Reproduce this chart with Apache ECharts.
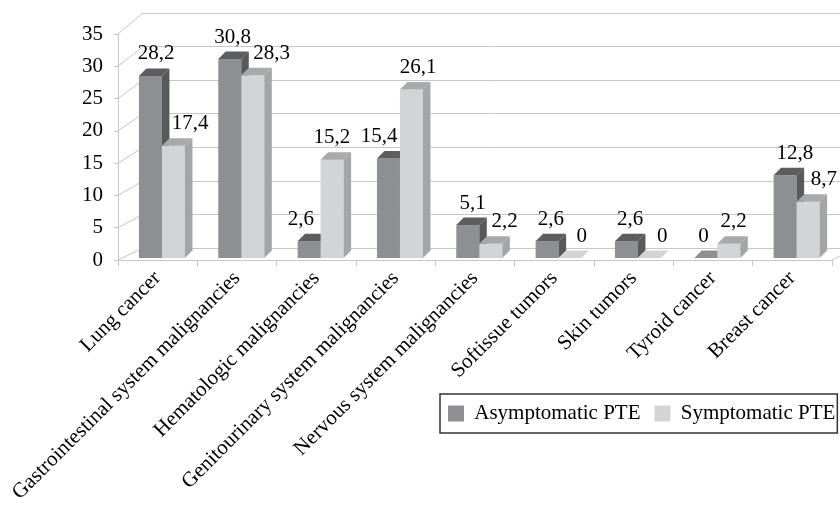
<!DOCTYPE html>
<html>
<head>
<meta charset="utf-8">
<script src="https://cdn.jsdelivr.net/npm/echarts@6/dist/echarts.min.js"></script>
<style>
  html, body { margin: 0; padding: 0; background: #fff; }
  #chart { width: 840px; height: 506px; }
</style>
</head>
<body>
<div id="chart"></div>
<script>
const categories = [
  'Lung cancer',
  'Gastrointestinal system malignancies',
  'Hematologic malignancies',
  'Genitourinary system malignancies',
  'Nervous system malignancies',
  'Softissue tumors',
  'Skin tumors',
  'Tyroid cancer',
  'Breast cancer'
];
const asymptomatic = [28.2, 30.8, 2.6, 15.4, 5.1, 2.6, 2.6, 0, 12.8];
const symptomatic = [17.4, 28.3, 15.2, 26.1, 2.2, 0, 0, 2.2, 8.7];
const seriesNames = ['Asymptomatic PTE', 'Symptomatic PTE'];
const yTicks = [0, 5, 10, 15, 20, 25, 30, 35];
const yMax = 35;

// ---- layout & style ----
const FONT_FAMILY = '"Liberation Serif", "Times New Roman", serif';
const FONT_SIZE = 21;
const FRONT = { left: 118, right: 832, top: 34, bottom: 260 };
const BACK = { left: 143, top: 13, bottom: 248 };
const LINE = '#c6c6c6';
const DEPTH = [7.5, -7.5];     // visible depth of each column
const BAR_W = 0.29;            // column width as share of a category band
const PAIR_SHIFT = 0.054;      // shift of the column pair inside the band
const BAR_LIFT = 2;            // columns stand slightly behind the front edge
const palette = [
  { front: '#8e8f93', top: '#5c5d5f', side: '#58595b' },
  { front: '#d3d4d6', top: '#a8a9ab', side: '#a4a5a7' }
];
// horizontal nudges of value labels, keeps neighbours apart
const labelNudge = [
  [2, -1, -12, -13, 1, 0, 0, -6, 6],
  [13, 15, -4, 3, 10, 8, 9, 1, 12]
];

function fmt(v) { return String(v).replace('.', ','); }

function columnRenderer(s) {
  const col = palette[s];
  return function (params, api) {
    const i = api.value(0);
    const v = api.value(1);
    const base = api.coord([i, 0]);
    const tip = api.coord([i, v]);
    const band = api.size([1, 0])[0];
    const w = band * BAR_W;
    const x0 = base[0] + band * PAIR_SHIFT - w + s * w;
    const x1 = x0 + w;
    const yb = base[1] - BAR_LIFT;
    const yt = tip[1] - BAR_LIFT;
    const dx = DEPTH[0], dy = DEPTH[1];
    const children = [];
    if (v > 0) {
      children.push({
        type: 'rect',
        shape: { x: x0, y: yt, width: w, height: yb - yt },
        style: { fill: col.front }
      });
      children.push({
        type: 'polygon',
        shape: { points: [[x0, yt], [x1, yt], [x1 + dx, yt + dy], [x0 + dx, yt + dy]] },
        style: { fill: col.top }
      });
      children.push({
        type: 'polygon',
        shape: { points: [[x1, yt], [x1 + dx, yt + dy], [x1 + dx, yb + dy], [x1, yb]] },
        style: { fill: col.side }
      });
    } else {
      children.push({
        type: 'polygon',
        shape: { points: [[x0, yb], [x1, yb], [x1 + dx, yb + dy], [x0 + dx, yb + dy]] },
        style: { fill: col.front }
      });
    }
    children.push({
      type: 'text',
      z2: 10,
      style: {
        text: fmt(v),
        x: x0 + w / 2 + dx / 2 + labelNudge[s][i],
        y: yt + dy - 4,
        align: 'center',
        verticalAlign: 'bottom',
        font: FONT_SIZE + 'px ' + FONT_FAMILY,
        fill: '#000'
      }
    });
    return { type: 'group', children: children };
  };
}

// left-side connectors between the front axis and the back wall, plus floor edge
function wallRenderer(params, api) {
  const cs = params.coordSys;
  const backY = v => BACK.bottom - (BACK.bottom - BACK.top) * v / yMax;
  const children = yTicks.map(v => ({
    type: 'line',
    shape: { x1: cs.x, y1: api.coord([0, v])[1], x2: BACK.left, y2: backY(v) },
    style: { stroke: LINE, lineWidth: 1 }
  }));
  const fx = cs.x + cs.width;
  const fy = api.coord([0, 0])[1];
  children.push({
    type: 'line',
    shape: { x1: fx, y1: fy, x2: fx + (BACK.left - cs.x), y2: BACK.bottom },
    style: { stroke: LINE, lineWidth: 1 }
  });
  return { type: 'group', children: children };
}

const chart = echarts.init(document.getElementById('chart'), null, { renderer: 'canvas' });

chart.setOption({
  animation: false,
  backgroundColor: '#fff',
  textStyle: { fontFamily: FONT_FAMILY },
  grid: [
    { left: FRONT.left, top: FRONT.top, width: FRONT.right - FRONT.left, height: FRONT.bottom - FRONT.top },
    { left: BACK.left, top: BACK.top, width: 760, height: BACK.bottom - BACK.top }
  ],
  legend: {
    data: seriesNames,
    left: 440,
    top: 394,
    width: 420,
    orient: 'horizontal',
    icon: 'rect',
    itemWidth: 16,
    itemHeight: 16,
    itemGap: 14,
    padding: [9, 2, 9, 8],
    borderColor: '#333',
    borderWidth: 1.5,
    selectedMode: false,
    formatter: n => ' ' + n,
    textStyle: { fontFamily: FONT_FAMILY, fontSize: FONT_SIZE, color: '#000' }
  },
  xAxis: [
    {
      type: 'category',
      gridIndex: 0,
      data: categories,
      axisLine: { show: true, lineStyle: { color: LINE } },
      axisTick: { show: true, length: 6, lineStyle: { color: LINE } },
      axisLabel: {
        interval: 0,
        rotate: 45,
        margin: 15,
        fontFamily: FONT_FAMILY,
        fontSize: FONT_SIZE,
        color: '#000'
      },
      splitLine: { show: false }
    },
    {
      type: 'category',
      gridIndex: 1,
      data: categories,
      show: false
    }
  ],
  yAxis: [
    {
      type: 'value',
      gridIndex: 0,
      min: 0,
      max: yMax,
      interval: 5,
      axisLine: { show: true, lineStyle: { color: LINE } },
      axisTick: { show: true, length: 4, lineStyle: { color: LINE } },
      axisLabel: { margin: 15, fontFamily: FONT_FAMILY, fontSize: FONT_SIZE, color: '#000' },
      splitLine: { show: false }
    },
    {
      type: 'value',
      gridIndex: 1,
      min: 0,
      max: yMax,
      interval: 5,
      axisLine: { show: false },
      axisTick: { show: false },
      axisLabel: { show: false },
      splitLine: { show: true, lineStyle: { color: LINE, width: 1 } }
    }
  ],
  series: [
    {
      type: 'custom',
      name: 'walls',
      xAxisIndex: 0,
      yAxisIndex: 0,
      z: 1,
      silent: true,
      renderItem: wallRenderer,
      data: [[0, 0]]
    },
    {
      type: 'custom',
      name: seriesNames[0],
      xAxisIndex: 0,
      yAxisIndex: 0,
      z: 3,
      itemStyle: { color: palette[0].front },
      renderItem: columnRenderer(0),
      data: asymptomatic.map((v, i) => [i, v])
    },
    {
      type: 'custom',
      name: seriesNames[1],
      xAxisIndex: 0,
      yAxisIndex: 0,
      z: 3,
      itemStyle: { color: palette[1].front },
      renderItem: columnRenderer(1),
      data: symptomatic.map((v, i) => [i, v])
    }
  ]
});
</script>
</body>
</html>
